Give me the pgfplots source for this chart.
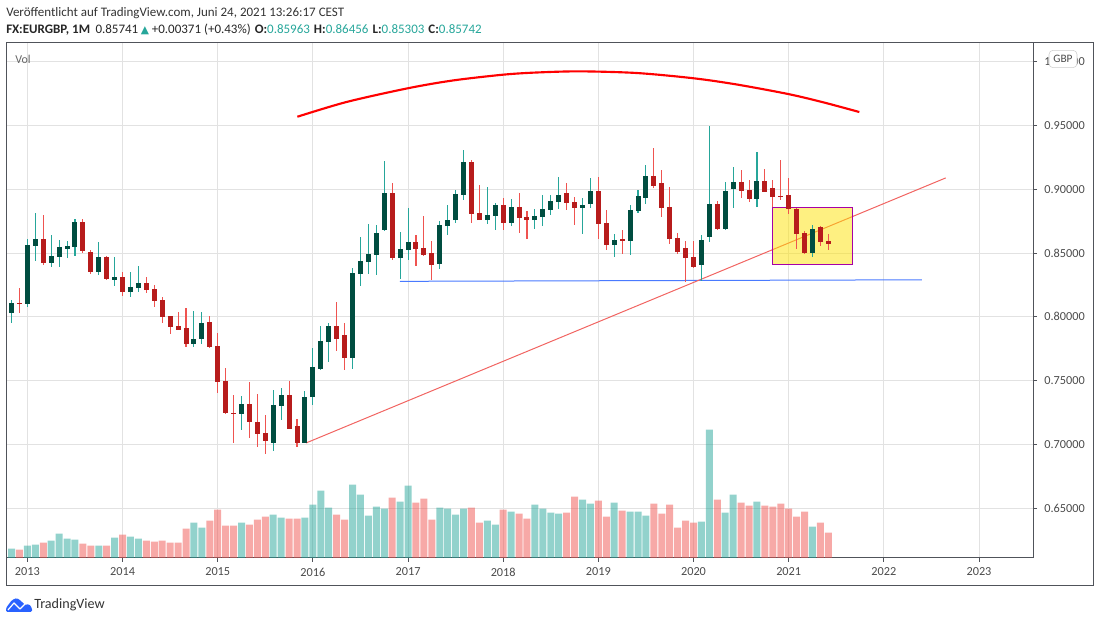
\documentclass[border=0pt]{standalone}
\usepackage{fontspec}
\usepackage{pgfplots}
\usepackage{pgfplotstable}
\pgfplotsset{compat=1.18}
\setmainfont{Carlito}
\newfontfamily\symfont{DejaVu Sans}

\definecolor{upbody}{HTML}{004D40}
\definecolor{upwick}{HTML}{26A69A}
\definecolor{downbody}{HTML}{B71C1C}
\definecolor{downwick}{HTML}{EF5350}
\definecolor{gridc}{HTML}{E2E2E2}
\definecolor{framec}{HTML}{50535A}
\definecolor{labelc}{HTML}{4A4A4A}
\definecolor{tvblue}{HTML}{2962FF}

% monthly candles, m = months since Jan 2013, v = volume bar height
\pgfplotstableread{
m o h l c v
-2 .8033 .8132 .7954 .8108 28
0 .8101 .8610 .8080 .8563 37
1 .8556 .8814 .8441 .8610 40
3 .8422 .8642 .8391 .8477 52
4 .8469 .8603 .8391 .8548 73
5 .8532 .8595 .8461 .8556 58
6 .8548 .8767 .8477 .8744 55
9 .8352 .8587 .8328 .8469 37
11 .8289 .8469 .8242 .8312 61
13 .8195 .8352 .8156 .8234 64
14 .8226 .8399 .8195 .8265 58
21 .7787 .8046 .7763 .7826 106
22 .7826 .8038 .7787 .7952 91
27 .7238 .7379 .7112 .7316 106
31 .7010 .7426 .6948 .7309 130
32 .7301 .7442 .7191 .7387 121
35 .7010 .7418 .7010 .7371 121
36 .7371 .7756 .7309 .7607 160
37 .7591 .7928 .7583 .7810 202
38 .7803 .7952 .7646 .7928 151
41 .7677 .8383 .7591 .8344 220
42 .8336 .8626 .8242 .8438 190
43 .8430 .8728 .8336 .8493 127
44 .8485 .8720 .8328 .8658 154
45 .8681 .9222 .8673 .8971 148
47 .8461 .8665 .8297 .8532 169
48 .8524 .8854 .8446 .8587 217
52 .8414 .8752 .8375 .8720 151
53 .8712 .8877 .8642 .8759 148
54 .8759 .8995 .8736 .8963 130
55 .8956 .9309 .8916 .9214 148
58 .8759 .9018 .8728 .8799 112
59 .8791 .8893 .8681 .8877 100
61 .8736 .8924 .8712 .8861 139
64 .8759 .8846 .8689 .8791 160
65 .8783 .8956 .8712 .8846 148
66 .8838 .8956 .8799 .8908 136
67 .8901 .9097 .8846 .8956 133
70 .8854 .8932 .8650 .8877 175
71 .8885 .9089 .8854 .8987 163
74 .8563 .8650 .8469 .8603 166
76 .8595 .8877 .8485 .8838 139
77 .8830 .8995 .8814 .8948 139
78 .8932 .9191 .8885 .9105 127
85 .8407 .8642 .8281 .8603 109
86 .8626 .9497 .8587 .8885 385
88 .8689 .9058 .8681 .8987 136
89 .9003 .9175 .8854 .9058 190
92 .8924 .9293 .8861 .9065 169
99 .8501 .8720 .8469 .8689 94
}\uptable

\pgfplotstableread{
m o h l c v
-1 .8110 .8226 .8033 .8102 25
2 .8610 .8799 .8407 .8422 46
7 .8744 .8767 .8501 .8516 43
8 .8509 .8524 .8336 .8352 37
10 .8469 .8477 .8289 .8297 37
12 .8312 .8352 .8163 .8195 70
15 .8265 .8312 .8187 .8210 52
16 .8218 .8250 .8077 .8124 49
17 .8132 .8156 .7952 .7999 52
18 .8007 .8007 .7865 .7920 46
19 .7928 .8038 .7897 .7897 46
20 .7912 .8069 .7763 .7787 88
23 .7959 .8007 .7756 .7763 112
24 .7771 .7873 .7403 .7489 145
25 .7497 .7599 .7238 .7246 97
26 .7246 .7387 .7010 .7240 97
28 .7316 .7489 .7050 .7175 100
29 .7175 .7395 .6979 .7081 115
30 .7089 .7230 .6924 .7026 124
33 .7387 .7497 .7120 .7120 118
34 .7144 .7199 .6979 .7010 118
39 .7928 .8116 .7732 .7826 130
40 .7857 .7952 .7583 .7677 115
46 .8971 .9050 .8446 .8461 181
49 .8587 .8642 .8399 .8532 166
50 .8540 .8791 .8477 .8485 178
51 .8501 .8595 .8289 .8407 115
56 .9214 .9230 .8736 .8807 151
57 .8814 .9034 .8759 .8759 106
60 .8877 .8932 .8681 .8736 145
62 .8861 .8971 .8658 .8775 133
63 .8783 .8830 .8610 .8759 118
68 .8971 .9050 .8838 .8893 136
69 .8901 .8940 .8720 .8854 184
72 .8987 .9097 .8610 .8728 172
73 .8736 .8838 .8524 .8563 124
75 .8610 .8681 .8493 .8595 142
79 .9105 .9324 .9010 .9026 163
80 .9050 .9152 .8783 .8854 133
81 .8861 .9018 .8571 .8610 160
82 .8618 .8658 .8493 .8508 91
83 .8540 .8595 .8273 .8461 112
84 .8469 .8595 .8383 .8391 106
87 .8885 .8908 .8681 .8689 175
90 .9058 .9152 .8932 .8987 166
91 .8995 .9073 .8901 .8924 157
93 .9065 .9159 .8979 .8979 157
94 .9010 .9073 .8861 .8940 154
95 .8948 .9230 .8916 .8942 163
96 .8956 .9089 .8807 .8846 148
97 .8846 .8854 .8532 .8650 124
98 .8658 .8673 .8493 .8501 139
100 .8705 .8712 .8556 .8587 106
101 .8595 .8650 .8524 .8574 76
}\downtable

\pgfplotsset{
  chartbase/.style={
    at={(4.875pt,48.75pt)}, anchor=south west,
    scale only axis, width=769.875pt, height=386.25pt,
    xmin=-2.636, xmax=126.81,
  },
  wick/.style={draw=none, mark=none, forget plot, error bars/.cd, y dir=plus, y explicit,
    error mark=none, error bar style={line width=.8pt, color=#1}},
  body/.style={draw=none, mark=none, forget plot, error bars/.cd, y dir=plus, y explicit,
    error mark=none, error bar style={line width=3.75pt, color=#1}},
}

\begin{document}
\begin{tikzpicture}
\path[use as bounding box] (0,0) rectangle (825pt,467.25pt);

% grid, frame and tick labels
\begin{axis}[chartbase,
  ymin=0.6108, ymax=1.01475,
  xtick={0,12,...,120},
  xticklabels={2013,2014,2015,2016,2017,2018,2019,2020,2021,2022,2023},
  ytick={0.65,0.70,0.75,0.80,0.85,0.90,0.95,1.00},
  yticklabel pos=right, ytick pos=right, xtick pos=bottom,
  tick align=outside, major tick length=3pt,
  tick style={color=framec, line width=.75pt},
  grid=major, grid style={color=gridc, line width=.75pt},
  axis line style={color=framec, line width=.75pt},
  tick label style={font=\fontsize{9.2}{11}\selectfont, text=labelc},
  /pgf/number format/assume math mode=true,
  yticklabel style={/pgf/number format/fixed, /pgf/number format/fixed zerofill,
    /pgf/number format/precision=5, xshift=2pt},
  xticklabel style={yshift=-1pt},
]
\end{axis}

% volume
\begin{axis}[chartbase, hide axis, ymin=0, ymax=1545, ybar, bar width=5.25pt, bar shift=0pt]
\addplot[draw=none, fill=upwick, fill opacity=.5] table[x=m, y=v] {\uptable};
\addplot[draw=none, fill=downwick, fill opacity=.5] table[x=m, y=v] {\downtable};
\end{axis}

% price
\begin{axis}[chartbase, hide axis, ymin=0.6108, ymax=1.01475]
% drawings
\addplot[color=tvblue!85, line width=.75pt] coordinates {(46.97,0.8278) (112.8,0.8290)};
\addplot[color=downwick!90!white, line width=.75pt] coordinates {(35.13,0.7010) (115.8,0.9089)};
\addplot[draw=none, fill=yellow!85!orange, fill opacity=.5] coordinates {(93.94,0.8859) (104.07,0.8859) (104.07,0.8412) (93.94,0.8412)} -- cycle;
\addplot[color=violet!70!magenta, line width=.9pt] coordinates {(93.94,0.8859) (104.07,0.8859) (104.07,0.8412) (93.94,0.8412)} -- cycle;
\addplot[color=red, line width=1.6pt, smooth] coordinates {
  (34.04,.9569) (40.26,.9685) (48.03,.9793) (53.71,.9854) (60.01,.9899) (64.22,.9916)
  (69.68,.9925) (76.84,.9912) (83.97,.9871) (89.45,.9822) (95.95,.9747) (100.37,.9682)
  (104.91,.9606)};
% candles
\addplot[wick=upwick] table[x=m, y=l, y error plus expr=\thisrow{h}-\thisrow{l}] {\uptable};
\addplot[wick=downwick] table[x=m, y=l, y error plus expr=\thisrow{h}-\thisrow{l}] {\downtable};
\addplot[body=upbody] table[x=m, y=o, y error plus expr=\thisrow{c}-\thisrow{o}] {\uptable};
\addplot[body=downbody] table[x=m, y=c, y error plus expr=\thisrow{o}-\thisrow{c}] {\downtable};
\end{axis}

\begin{scope}[x=0.75pt, y=-0.75pt, yshift=467.25pt]
% outer frame round the scales
\draw[framec, line width=.75pt] (6.5,43) rectangle (1093,586);

% header
\node[anchor=base west, inner sep=0pt, text=black!80, font=\fontsize{9.75}{11}\selectfont] at (6,17) {Veröffentlicht auf TradingView.com, Juni 24, 2021 13:26:17 CEST};
\node[anchor=base west, inner sep=0pt, text=black!85, font=\fontsize{9.75}{11}\selectfont] at (6,34) {\textbf{FX:EURGBP, 1M}\hspace{4pt}0.85741\hspace{2pt}\textcolor{upwick}{\symfont\fontsize{8}{9}\selectfont ▲}\hspace{2pt}+0.00371 (+0.43\%)\hspace{3pt}\textbf{O:}\textcolor{upwick}{0.85963}\hspace{3pt}\textbf{H:}\textcolor{upwick}{0.86456}\hspace{3pt}\textbf{L:}\textcolor{upwick}{0.85303}\hspace{3pt}\textbf{C:}\textcolor{upwick}{0.85742}};

\node[anchor=base west, inner sep=0pt, text=black!60, font=\fontsize{9}{11}\selectfont] at (15,64) {Vol};

% currency badge over the 1.00000 label
\node[draw=black!20, fill=white, rounded corners=3pt, inner sep=0pt, minimum width=21pt, minimum height=13pt,
  text=labelc, font=\fontsize{8.5}{10}\selectfont] at (1063,59) {GBP};

% logo
\fill[tvblue, rounded corners=1pt] (6,612) -- (6,608) -- (12,600) -- (17,598) -- (21,601) -- (25,605) -- (29,604) -- (32,608) -- (32,612) -- cycle;
\draw[white, line width=.9pt, line join=round] (8,610) -- (14,603) -- (20,609) -- (26,603);
\node[anchor=base west, inner sep=0pt, text=black!80, font=\fontsize{10.6}{12}\selectfont] at (34,609) {TradingView};
\end{scope}
\end{tikzpicture}
\end{document}
